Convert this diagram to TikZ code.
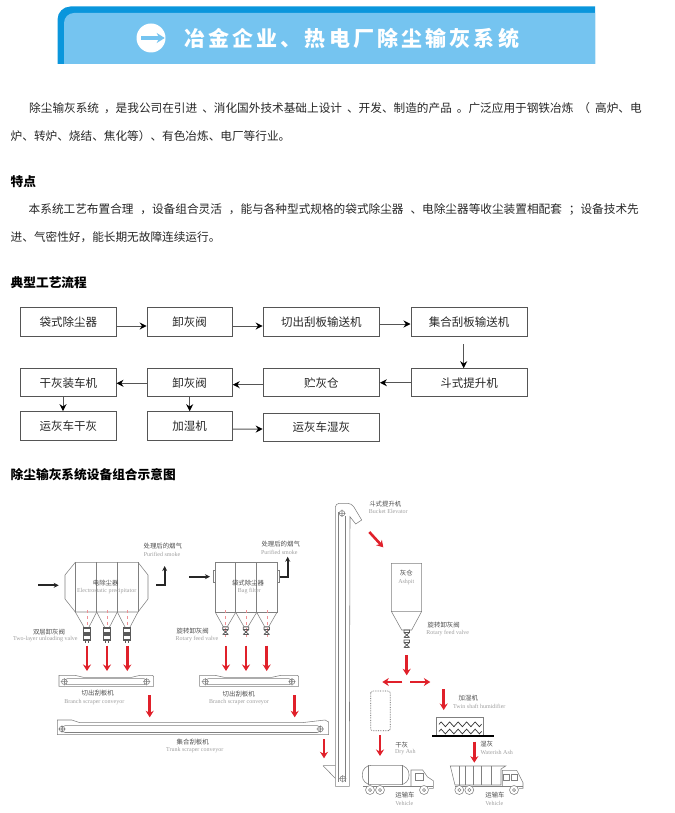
\documentclass[tikz,border=0pt]{standalone}
\usepackage{xcolor}
\usepackage{fontspec}
\setmainfont{Liberation Serif}
\newfontfamily\cjk{Noto Sans CJK SC}
\newfontfamily\cjktitle[LetterSpace=15]{Noto Sans CJK SC}
\usetikzlibrary{arrows.meta,decorations.pathmorphing}
\definecolor{bandblue}{HTML}{0A96DC}
\definecolor{skyblue}{HTML}{75C4F0}
\definecolor{linegrey}{HTML}{808080}
\definecolor{flowgrey}{HTML}{555555}
\definecolor{hotred}{HTML}{E0202A}

\begin{document}
\begin{tikzpicture}[x=1pt,y=-1pt,
		para/.style={anchor=west,inner sep=0pt,text=black!85,font=\cjk\fontsize{11.65}{12}\selectfont},
		head/.style={anchor=west,inner sep=0pt,font=\cjk\bfseries\fontsize{12.7}{13}\selectfont},
		flowbox/.style={draw=flowgrey,line width=1pt,inner sep=0pt,minimum height=29pt,font=\cjk\fontsize{11.5}{12}\selectfont,text=black!85},
		e/.style={-{Stealth[length=7pt,width=7pt,black]},draw=flowgrey,line width=1pt},
		hot/.style={-{Stealth[length=6.5pt,width=8pt]},draw=hotred,line width=2.6pt},
		blk/.style={-{Stealth[length=5pt,width=5pt]},draw=black!85,line width=1.7pt},
		part/.style={draw=linegrey,line width=0.55pt},
		cn/.style={inner sep=0pt,text=black!70,font=\cjk\fontsize{6.4}{7}\selectfont},
		en/.style={inner sep=0pt,text=black!38,font=\fontsize{6}{7}\selectfont},
		twovalve/.pic={\draw[draw=black!65,line width=1.1pt] (-3.4,0) rectangle (3.4,5) (-3.4,7) rectangle (3.4,12) (-1.5,5)--(-1.5,7) (1.5,5)--(1.5,7) (-1.5,12)--(-1.5,15) (1.5,12)--(1.5,15);},
		rotvalve/.pic={\draw[draw=black!65,line width=0.8pt] (-2.8,0) rectangle (2.8,2.5) (-2.8,2.5)--(2.8,7.5) (2.8,2.5)--(-2.8,7.5) (-2,7.5)--(2,7.5);},
		roller/.pic={\draw[part] (0,0) circle (2.8pt) (-3.6,0)--(3.6,0) (0,-3.6)--(0,3.6);},
		tyre/.pic={\draw[part,fill=white] (0,0) circle (4.5pt) (0,0) circle (1.6pt);}
		]
		\useasboundingbox (0,0) rectangle (674,813);
		\fill[bandblue] (57.5,64) [rounded corners=13pt] -- (57.5,6.5) [sharp corners] -- (595,6.5) -- (595,64) -- cycle;
		\fill[skyblue] (64,64) [rounded corners=10pt] -- (64,13) [sharp corners] -- (595,13) -- (595,64) -- cycle;
		\node[fill=white,circle,minimum size=29pt,inner sep=0pt] (badge) at (151,38) {};
		\draw[-{Stealth[length=8pt,width=10pt]},draw=skyblue,line width=3.4pt] ([xshift=5pt]badge.west) -- ([xshift=-1pt]badge.east);
		\node[anchor=west,inner sep=0pt,text=white,font=\cjktitle\bfseries\fontsize{21}{22}\selectfont] (title) at (184,38.5) {冶金企业、热电厂除尘输灰系统};
		\node[para] (intro1) at (29,108) {\spaceskip 5pt\relax 除尘输灰系统 ，是我公司在引进 、消化国外技术基础上设计 、开发、制造的产品 。广泛应用于钢铁冶炼 （ 高炉、电};
		\node[para] (intro2) at (10.5,136) {炉、转炉、烧结、焦化等）、有色冶炼、电厂等行业。};
		\node[head] (feat) at (10.5,181.5) {特点};
		\node[para] (feat1) at (28.5,209) {\spaceskip 6.9pt\relax 本系统工艺布置合理 ，设备组合灵活 ，能与各种型式规格的袋式除尘器 、电除尘器等收尘装置相配套 ；设备技术先};
		\node[para] (feat2) at (10.5,237) {进、气密性好，能长期无故障连续运行。};
		\node[head] (flowhead) at (10.5,282.3) {典型工艺流程};
		\node[head] (schemehead) at (10.5,475) {除尘输灰系统设备组合示意图};
		\node[flowbox,minimum width=95.4pt] (bag) at (68.3,322) {袋式除尘器};
		\node[flowbox,minimum width=85pt] (valve) at (189.7,322) {卸灰阀};
		\node[flowbox,minimum width=116.2pt] (branch) at (321.3,322) {切出刮板输送机};
		\node[flowbox,minimum width=116pt] (trunk) at (469,322) {集合刮板输送机};
		\node[flowbox,minimum width=116pt,minimum height=28pt] (lift) at (469,382.7) {斗式提升机};
		\node[flowbox,minimum width=116.2pt,minimum height=28pt] (silo) at (321.3,382.7) {贮灰仓};
		\node[flowbox,minimum width=85pt,minimum height=28pt] (valvetwo) at (189.7,382.7) {卸灰阀};
		\node[flowbox,minimum width=95.4pt,minimum height=28pt] (loader) at (68.3,382.7) {干灰装车机};
		\node[flowbox,minimum width=95.4pt] (dry) at (68.3,426.2) {运灰车干灰};
		\node[flowbox,minimum width=85pt] (humid) at (189.7,426.2) {加湿机};
		\node[flowbox,minimum width=116.2pt,minimum height=27.7pt] (wet) at (321.3,427.2) {运灰车湿灰};
		\draw[e] ([yshift=-4pt]bag.east)--([yshift=-4pt]valve.west); \draw[e] ([yshift=-4pt]valve.east)--([yshift=-4pt]branch.west); \draw[e] ([yshift=-2pt]branch.east)--([yshift=-2pt]trunk.west);
		\draw[e] ([yshift=-7pt,xshift=-5.3pt]trunk.south)--([xshift=-5.3pt]lift.north);
		\draw[e] (lift.west)--(silo.east); \draw[e] ([yshift=-2pt]silo.west)--([yshift=-2pt]valvetwo.east); \draw[e] ([yshift=-0.6pt]valvetwo.west)--([yshift=-0.6pt]loader.east);
		\draw[e] ([xshift=-5.3pt]loader.south)--([xshift=-5.3pt]dry.north); \draw[e] (valvetwo.south)--(humid.north); \draw[e] ([yshift=-3pt]humid.east)--([yshift=-1.8pt]wet.west);
		% precipitator
		\draw[part] (75.3,562.3)--(65,575)--(65,599)--(75.3,612)--(138,612)--(148,599)--(148,575)--(138,562.3)--cycle;
		\draw[part] (75.3,562.3)--(75.3,612) (96.7,562.3)--(96.7,612) (117.3,562.3)--(117.3,612) (138,562.3)--(138,612);
		\draw[part] (75.3,612)--(84.5,628)--(88.5,628)--(96.7,612)--(105,628)--(109,628)--(117.3,612)--(125.5,628)--(129.5,628)--(138,612);
		\draw[hotred!50,line width=0.4pt,dashed] (86.7,610)--(86.7,628) (107,610)--(107,628) (127.3,610)--(127.3,628);
		\pic at (86.7,628) {twovalve}; \pic at (107,628) {twovalve}; \pic at (127.3,628) {twovalve};
		\draw[hot] (87,645.5)--(87,671); \draw[hot] (107,645.5)--(107,671); \draw[hot] (127.3,645.5)--(127.3,671);
		\draw[blk] (38,585.3)--(58.7,585.3);
		\draw[blk] (156.3,585.3)--(164.7,585.3)--(164.7,566);
		\node[cn] (esp) at (105.7,583.3) {电除尘器};
		\node[en] (espen) at (106.7,591.3) {Electrostatic precipitator};
		\node[cn] (smoke) at (162.8,546) {处理后的烟气};
		\node[en] (smokeen) at (162,554.3) {Purified smoke};
		\node[cn] (dbl) at (49,631.7) {双层卸灰阀};
		\node[en] (dblen) at (45.3,639.3) {Two-layer unloading valve};
		% bag filter
		\draw[part] (215.3,562.3) rectangle (277,612.3) (235.7,562.3)--(235.7,612.3) (256.7,562.3)--(256.7,612.3);
		\draw[part] (213,570.7) rectangle (215.3,582) (277,570.7) rectangle (279.7,582);
		\draw[part] (215.3,612.3)--(223.3,626.7)--(227.3,626.7)--(235.7,612.3)--(244,626.7)--(248,626.7)--(256.7,612.3)--(264.7,626.7)--(268.7,626.7)--(277,612.3);
		\draw[hotred!50,line width=0.4pt,dashed] (225.5,610)--(225.5,638) (246,610)--(246,638) (266.7,610)--(266.7,638);
		\pic at (225.5,627) {rotvalve}; \pic at (246,627) {rotvalve}; \pic at (266.7,627) {rotvalve};
		\draw[hot] (226,645.5)--(226,671); \draw[hot] (246,645.5)--(246,671); \draw[hot] (266.7,645.5)--(266.7,671);
		\draw[blk] (189.3,576.7)--(210,576.7);
		\draw[blk] (279.7,576.7)--(287.7,576.7)--(287.7,556.7);
		\node[cn] (filter) at (248,583.3) {袋式除尘器};
		\node[en] (filteren) at (249.3,591.3) {Bag filter};
		\node[cn] (smoketwo) at (280.7,543.7) {处理后的烟气};
		\node[en] (smoketwoen) at (279.3,552) {Purified smoke};
		\node[cn] (rot) at (192.7,631.3) {旋转卸灰阀};
		\node[en] (roten) at (197,638.7) {Rotary feed valve};
		% conveyors
		\draw[part] (59,675.3)--(75,675.3)--(83.3,677.3)--(131.7,677.3)--(140,675.3)--(152.7,675.3)--(153.7,677)--(153.7,686.3)--(59,686.3)--cycle;
		\draw[part,rounded corners=3pt] (64.3,678.7) rectangle (147,684.7);
		\pic at (64.3,681.7) {roller}; \pic at (146.7,681.7) {roller};
		\node[cn] (brone) at (97.7,693.3) {切出刮板机};
		\node[en] (broneen) at (94.3,701.7) {Branch scraper conveyor};
		\draw[part] (199.7,675.3)--(215,675.3)--(224,677.3)--(272,677.3)--(281,675.3)--(297.7,675.3)--(298.7,677)--(298.7,686.3)--(199.7,686.3)--cycle;
		\draw[part,rounded corners=3pt] (205.3,678.7) rectangle (292,684.7);
		\pic at (205.3,681.7) {roller}; \pic at (292,681.7) {roller};
		\node[cn] (brtwo) at (238.7,694) {切出刮板机};
		\node[en] (brtwoen) at (239,702) {Branch scraper conveyor};
		\draw[hot] (149.7,695)--(149.7,717.3); \draw[hot] (294.7,695)--(294.7,717.3);
		\draw[part] (57.3,720)--(71.7,720)--(80,722.7)--(301.7,722.7)--(325,720)--(328.7,722)--(328.7,734.7)--(57.3,734.7)--cycle;
		\draw[part,rounded corners=3pt] (62,725.7) rectangle (320.3,732.5);
		\pic at (62,729) {roller}; \pic at (320.3,729) {roller};
		\node[cn] (tr) at (192.7,742.3) {集合刮板机};
		\node[en] (tren) at (194.7,750.3) {Trunk scraper conveyor};
		\draw[hot] (324,739)--(324,758.3);
		% elevator
		\draw[part,rounded corners=4pt] (335.3,786.3)--(335.3,503.3)--(351.7,503.3)--(361.7,520);
		\draw[part] (361.7,520)--(355.7,524)--(350,516.7)--(349.3,786.3)--(335.3,786.3);
		\draw[part] (323,765.7)--(335.3,765.7) (323,765.7)--(335.3,778.3);
		\draw[part] (338.3,512)--(338.3,782) (345,516)--(345,782);
		\pic at (342,513.3) {roller}; \pic at (342.7,778.7) {roller};
		\node[cn] (lifter) at (385.3,504.3) {斗式提升机};
		\node[en] (lifteren) at (388.3,511.7) {Bucket Elevator};
		\draw[hot] (369.3,532)--(383.3,547.3);
		% ashpit
		\draw[part] (391.3,563.3)--(421.7,563.3)--(421.7,611.3)--(411.7,630)--(401.7,630)--(391.3,611.3)--cycle (391.3,611.3)--(421.7,611.3);
		\pic at (406.7,630) {rotvalve}; \pic at (406.7,640) {rotvalve};
		\node[cn] (pit) at (406.3,573.3) {灰仓};
		\node[en] (piten) at (406.3,581.7) {Ashpit};
		\node[cn] (rottwo) at (443.7,625) {旋转卸灰阀};
		\node[en] (rottwoen) at (447.7,633.3) {Rotary feed valve};
		\draw[hot] (406.7,655)--(406.7,675.3); \draw[hot] (402.3,682)--(382.3,682); \draw[hot] (410,682)--(430.3,682);
		\draw[densely dotted,draw=black!65,rounded corners=2pt,line width=0.7pt] (370.7,691) rectangle (390.3,730.7);
		\draw[hot] (380,735.3)--(380,756);
		\node[cn] (dryash) at (401.7,744.7) {干灰};
		\node[en] (dryashen) at (405.3,752) {Dry Ash};
		% tanker
		\draw[part,rounded corners=9pt] (362.3,765.3) rectangle (409,784.7);
		\draw[part] (368.3,765.3)--(368.3,784.7) (402,765.3)--(402,784.7);
		\draw[part] (411,786)--(411,770)--(422.7,770)--(427.3,776.7)--(433.3,780.7)--(433.3,788.3)--(429,788.3);
		\draw[part] (415,773.3) rectangle (423.3,780);
		\draw[part] (363,786)--(433.3,786);
		\pic at (370,790) {tyre}; \pic at (380,790) {tyre}; \pic at (424,790) {tyre};
		\node[cn] (veh) at (405,795) {运输车};
		\node[en] (vehen) at (404.3,803.3) {Vehicle};
		% humidifier
		\draw[hot] (443.7,689)--(443.7,710);
		\node[cn] (hum) at (468.3,697.7) {加湿机};
		\node[en] (humen) at (479.3,706.7) {Twin shaft humidifier};
		\draw[part] (436.7,736)--(436.7,717.3)--(483.7,717.3)--(483.7,736);
		\draw[black,line width=1.6pt] (432,736)--(493.7,736);
		\draw[black!80,line width=0.7pt,decorate,decoration={zigzag,segment length=8.5pt,amplitude=2.4pt}] (439,724.3)--(481.7,724.3);
		\draw[black!80,line width=0.7pt,decorate,decoration={zigzag,segment length=8.5pt,amplitude=2.4pt}] (439,731.5)--(481.7,731.5);
		\draw[hot] (474.3,741.7)--(474.3,762.7);
		\node[cn] (wetash) at (486.7,744.3) {湿灰};
		\node[en] (wetashen) at (496.7,752.7) {Waterish Ash};
		% dump truck
		\draw[part] (450.3,766)--(505.7,766)--(501,769)--(501,785)--(455,785)--cycle;
		\draw[part] (459,766)--(459,785) (465,766)--(465,785) (473,766)--(473,785) (481.5,766)--(481.5,785) (491.5,766)--(491.5,785);
		\draw[part] (502.3,786)--(502.3,770.3)--(516.7,770.3)--(523,782.7)--(523,788.3)--(519,788.3);
		\draw[part] (503.3,774) rectangle (509.3,780) (511,774) rectangle (517.7,780);
		\draw[part] (455,786)--(523,786);
		\pic at (459.3,790) {tyre}; \pic at (469.3,790) {tyre}; \pic at (514,790) {tyre};
		\node[cn] (vehtwo) at (495,795) {运输车};
		\node[en] (vehtwoen) at (494.3,803) {Vehicle};
	\end{tikzpicture}
\end{document}
